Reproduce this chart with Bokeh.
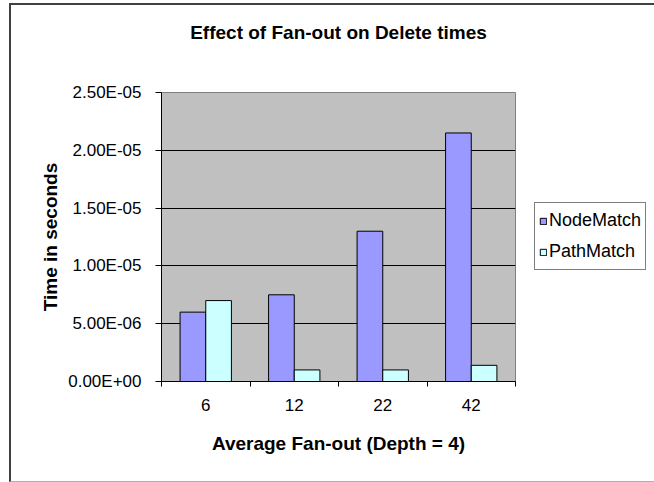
from bokeh.plotting import figure
from bokeh.models import (ColumnDataSource, FixedTicker, CustomJSTickFormatter,
                          Legend, LegendItem, Range1d, Title, InlineStyleSheet)
from bokeh.embed import file_html
from bokeh.resources import INLINE
import numpy as np

# ---- data ----
categories = ["6", "12", "22", "42"]
node_match = [6.0e-6, 7.5e-6, 1.3e-5, 2.15e-5]
path_match = [7.0e-6, 1.0e-6, 1.0e-6, 1.4e-6]
y_ticks = [0.0, 5e-6, 1e-5, 1.5e-5, 2e-5, 2.5e-5]
series_names = ["NodeMatch", "PathMatch"]

title_text = "Effect of Fan-out on Delete times"
x_label = "Average Fan-out (Depth = 4)"
y_label = "Time in seconds"

FONT = "Liberation Sans"
BAR_W = 0.29

idx = np.arange(len(categories)) + 0.5
src = ColumnDataSource(dict(
    xn=idx - BAR_W / 2, xp=idx + BAR_W / 2,
    node=node_match, path=path_match, cat=categories))

p = figure(frame_width=354, frame_height=289, output_backend="svg", toolbar_location=None,
           x_range=Range1d(0, len(categories)), y_range=Range1d(y_ticks[0], y_ticks[-1]),
           min_border_left=161, min_border_right=139, min_border_top=92, min_border_bottom=101)

p.background_fill_color = "#C0C0C0"
p.border_fill_color = "white"
p.outline_line_color = "#808080"
p.outline_line_width = 1

r1 = p.vbar(x="xn", top="node", width=BAR_W, bottom=0, source=src,
            fill_color="#9999FF", line_color="black", line_width=1)
r2 = p.vbar(x="xp", top="path", width=BAR_W, bottom=0, source=src,
            fill_color="#CCFFFF", line_color="black", line_width=1)

# title: spacer (nearest the frame) then the real title
p.title.text = ""
p.add_layout(Title(text=" ", text_font=FONT, text_font_size="30px"), "above")
p.add_layout(Title(text=title_text, align="center", text_font=FONT,
                   text_font_size="19px", text_font_style="bold",
                   text_color="black"), "above")

# grids
p.xgrid.grid_line_color = None
p.ygrid.grid_line_color = "black"
p.ygrid.grid_line_width = 1

# y axis
ya = p.yaxis[0]
ya.ticker = FixedTicker(ticks=y_ticks)
ya.formatter = CustomJSTickFormatter(code="""
    const s = tick.toExponential(2);
    const parts = s.split('e');
    const e = parseInt(parts[1]);
    const a = Math.abs(e);
    return parts[0] + 'E' + (e < 0 ? '-' : '+') + (a < 10 ? '0' : '') + a;
""")
ya.axis_line_color = "black"
ya.major_tick_line_color = "black"
ya.major_tick_out = 6
ya.major_tick_in = 0
ya.minor_tick_line_color = None
ya.major_label_text_font = FONT
ya.major_label_text_font_size = "17px"
ya.major_label_text_color = "black"
ya.major_label_standoff = 14
ya.axis_label = y_label
ya.axis_label_text_font = FONT
ya.axis_label_text_font_size = "19px"
ya.axis_label_text_font_style = "bold"
ya.axis_label_text_color = "black"
ya.axis_label_standoff = 4

# x axis
xa = p.xaxis[0]
xa.ticker = FixedTicker(ticks=list(idx), minor_ticks=list(range(len(categories) + 1)))
xa.formatter = CustomJSTickFormatter(args=dict(cats=categories),
                                     code="return cats[Math.floor(tick)];")
xa.axis_line_color = "black"
xa.major_tick_line_color = None
xa.major_tick_out = 0
xa.major_tick_in = 0
xa.minor_tick_line_color = "black"
xa.minor_tick_out = 5
xa.minor_tick_in = 0
xa.major_label_text_font = FONT
xa.major_label_text_font_size = "17px"
xa.major_label_text_color = "black"
xa.major_label_standoff = 12
xa.axis_label = x_label
xa.axis_label_text_font = FONT
xa.axis_label_text_font_size = "19px"
xa.axis_label_text_font_style = "bold"
xa.axis_label_text_color = "black"
xa.axis_label_standoff = 19

# legend (right side panel)
legend = Legend(items=[LegendItem(label=series_names[0], renderers=[r1]),
                       LegendItem(label=series_names[1], renderers=[r2])],
                location=(19, 111))
legend.border_line_color = "black"
legend.border_line_width = 1
legend.background_fill_color = "white"
legend.background_fill_alpha = 1
legend.padding = 4
legend.spacing = 4
legend.margin = 0
legend.label_height = 27
legend.glyph_height = 8
legend.glyph_width = 8
legend.label_standoff = 2
legend.label_text_font = FONT
legend.label_text_font_size = "18px"
legend.label_text_color = "black"
p.add_layout(legend, "right")

# outer chart border (drawn with CSS over the canvas)
p.stylesheets = [InlineStyleSheet(css="""
:host::after {
  content: '';
  position: absolute;
  left: 9px; top: 3px; width: 645px; height: 479px;
  box-sizing: border-box;
  border-left: 2px solid #404040;
  border-top: 2px solid #404040;
  border-bottom: 1px solid #b0b0b0;
  pointer-events: none;
}
""")]

open("out.html", "w").write(file_html(p, INLINE))
